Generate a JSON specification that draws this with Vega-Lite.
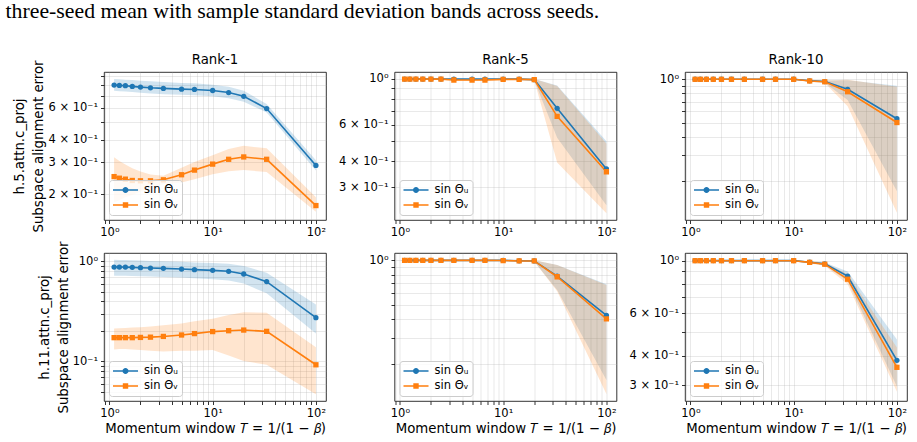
{
  "$schema": "https://vega.github.io/schema/vega-lite/v6.json",
  "padding": {"left": 5, "top": 0, "right": 5, "bottom": 5},
  "title": {
    "text": "three-seed mean with sample standard deviation bands across seeds.",
    "anchor": "start",
    "frame": "bounds",
    "font": "Liberation Serif",
    "fontSize": 21.8,
    "fontWeight": "normal",
    "color": "#000000",
    "offset": 30,
    "dx": -7
  },
  "datasets": {
    "A": [
      {"s": "U", "T": 1.111, "m": 0.800, "lo": 0.744, "hi": 0.865},
      {"s": "U", "T": 1.25, "m": 0.797, "lo": 0.741, "hi": 0.861},
      {"s": "U", "T": 1.429, "m": 0.794, "lo": 0.738, "hi": 0.857},
      {"s": "U", "T": 1.667, "m": 0.787, "lo": 0.732, "hi": 0.854},
      {"s": "U", "T": 2, "m": 0.780, "lo": 0.725, "hi": 0.846},
      {"s": "U", "T": 2.5, "m": 0.773, "lo": 0.719, "hi": 0.839},
      {"s": "U", "T": 3.333, "m": 0.767, "lo": 0.713, "hi": 0.832},
      {"s": "U", "T": 5, "m": 0.760, "lo": 0.707, "hi": 0.821},
      {"s": "U", "T": 6.667, "m": 0.757, "lo": 0.704, "hi": 0.818},
      {"s": "U", "T": 10, "m": 0.747, "lo": 0.695, "hi": 0.804},
      {"s": "U", "T": 14.29, "m": 0.728, "lo": 0.677, "hi": 0.783},
      {"s": "U", "T": 20, "m": 0.694, "lo": 0.648, "hi": 0.744},
      {"s": "U", "T": 33.33, "m": 0.594, "lo": 0.564, "hi": 0.630},
      {"s": "U", "T": 100, "m": 0.288, "lo": 0.270, "hi": 0.308},
      {"s": "V", "T": 1.111, "m": 0.250, "lo": 0.180, "hi": 0.320},
      {"s": "V", "T": 1.25, "m": 0.245, "lo": 0.185, "hi": 0.305},
      {"s": "V", "T": 1.429, "m": 0.242, "lo": 0.192, "hi": 0.292},
      {"s": "V", "T": 1.667, "m": 0.238, "lo": 0.198, "hi": 0.278},
      {"s": "V", "T": 2, "m": 0.237, "lo": 0.207, "hi": 0.267},
      {"s": "V", "T": 2.5, "m": 0.237, "lo": 0.217, "hi": 0.257},
      {"s": "V", "T": 3.333, "m": 0.240, "lo": 0.227, "hi": 0.253},
      {"s": "V", "T": 5, "m": 0.256, "lo": 0.232, "hi": 0.280},
      {"s": "V", "T": 6.667, "m": 0.2715, "lo": 0.242, "hi": 0.301},
      {"s": "V", "T": 10, "m": 0.293, "lo": 0.258, "hi": 0.328},
      {"s": "V", "T": 14.29, "m": 0.3115, "lo": 0.268, "hi": 0.355},
      {"s": "V", "T": 20, "m": 0.321, "lo": 0.272, "hi": 0.370},
      {"s": "V", "T": 33.33, "m": 0.3115, "lo": 0.265, "hi": 0.358},
      {"s": "V", "T": 100, "m": 0.173, "lo": 0.160, "hi": 0.192}
    ],
    "B": [
      {"s": "U", "T": 1.111, "m": 0.999, "lo": 0.995, "hi": 1.003},
      {"s": "U", "T": 1.25, "m": 0.999, "lo": 0.995, "hi": 1.003},
      {"s": "U", "T": 1.429, "m": 0.999, "lo": 0.995, "hi": 1.003},
      {"s": "U", "T": 1.667, "m": 0.999, "lo": 0.995, "hi": 1.003},
      {"s": "U", "T": 2, "m": 0.999, "lo": 0.995, "hi": 1.003},
      {"s": "U", "T": 2.5, "m": 0.999, "lo": 0.995, "hi": 1.003},
      {"s": "U", "T": 3.333, "m": 0.999, "lo": 0.995, "hi": 1.003},
      {"s": "U", "T": 5, "m": 0.999, "lo": 0.995, "hi": 1.003},
      {"s": "U", "T": 6.667, "m": 0.999, "lo": 0.995, "hi": 1.003},
      {"s": "U", "T": 10, "m": 0.999, "lo": 0.995, "hi": 1.003},
      {"s": "U", "T": 14.29, "m": 0.999, "lo": 0.995, "hi": 1.003},
      {"s": "U", "T": 20, "m": 0.993, "lo": 0.985, "hi": 1.0},
      {"s": "U", "T": 33.33, "m": 0.721, "lo": 0.52, "hi": 0.93},
      {"s": "U", "T": 100, "m": 0.367, "lo": 0.245, "hi": 0.50},
      {"s": "V", "T": 1.111, "m": 0.998, "lo": 0.994, "hi": 1.002},
      {"s": "V", "T": 1.25, "m": 0.998, "lo": 0.994, "hi": 1.002},
      {"s": "V", "T": 1.429, "m": 0.998, "lo": 0.994, "hi": 1.002},
      {"s": "V", "T": 1.667, "m": 0.998, "lo": 0.994, "hi": 1.002},
      {"s": "V", "T": 2, "m": 0.998, "lo": 0.994, "hi": 1.002},
      {"s": "V", "T": 2.5, "m": 0.998, "lo": 0.994, "hi": 1.002},
      {"s": "V", "T": 3.333, "m": 0.989, "lo": 0.978, "hi": 1.0},
      {"s": "V", "T": 5, "m": 0.989, "lo": 0.978, "hi": 1.0},
      {"s": "V", "T": 6.667, "m": 0.989, "lo": 0.978, "hi": 1.0},
      {"s": "V", "T": 10, "m": 0.996, "lo": 0.99, "hi": 1.002},
      {"s": "V", "T": 14.29, "m": 0.996, "lo": 0.99, "hi": 1.002},
      {"s": "V", "T": 20, "m": 0.993, "lo": 0.985, "hi": 1.0},
      {"s": "V", "T": 33.33, "m": 0.660, "lo": 0.395, "hi": 0.925},
      {"s": "V", "T": 100, "m": 0.356, "lo": 0.224, "hi": 0.488}
    ],
    "C": [
      {"s": "U", "T": 1.111, "m": 0.999, "lo": 0.995, "hi": 1.003},
      {"s": "U", "T": 1.25, "m": 0.999, "lo": 0.995, "hi": 1.003},
      {"s": "U", "T": 1.429, "m": 0.999, "lo": 0.995, "hi": 1.003},
      {"s": "U", "T": 1.667, "m": 0.999, "lo": 0.995, "hi": 1.003},
      {"s": "U", "T": 2, "m": 0.999, "lo": 0.995, "hi": 1.003},
      {"s": "U", "T": 2.5, "m": 0.999, "lo": 0.995, "hi": 1.003},
      {"s": "U", "T": 3.333, "m": 0.999, "lo": 0.995, "hi": 1.003},
      {"s": "U", "T": 5, "m": 0.999, "lo": 0.995, "hi": 1.003},
      {"s": "U", "T": 6.667, "m": 0.999, "lo": 0.995, "hi": 1.003},
      {"s": "U", "T": 10, "m": 0.999, "lo": 0.995, "hi": 1.003},
      {"s": "U", "T": 14.29, "m": 0.975, "lo": 0.96, "hi": 0.99},
      {"s": "U", "T": 20, "m": 0.963, "lo": 0.945, "hi": 0.98},
      {"s": "U", "T": 33.33, "m": 0.852, "lo": 0.72, "hi": 0.985},
      {"s": "U", "T": 100, "m": 0.535, "lo": 0.17, "hi": 0.90},
      {"s": "V", "T": 1.111, "m": 0.998, "lo": 0.994, "hi": 1.002},
      {"s": "V", "T": 1.25, "m": 0.998, "lo": 0.994, "hi": 1.002},
      {"s": "V", "T": 1.429, "m": 0.998, "lo": 0.994, "hi": 1.002},
      {"s": "V", "T": 1.667, "m": 0.998, "lo": 0.994, "hi": 1.002},
      {"s": "V", "T": 2, "m": 0.998, "lo": 0.994, "hi": 1.002},
      {"s": "V", "T": 2.5, "m": 0.998, "lo": 0.994, "hi": 1.002},
      {"s": "V", "T": 3.333, "m": 0.998, "lo": 0.994, "hi": 1.002},
      {"s": "V", "T": 5, "m": 0.998, "lo": 0.994, "hi": 1.002},
      {"s": "V", "T": 6.667, "m": 0.998, "lo": 0.994, "hi": 1.002},
      {"s": "V", "T": 10, "m": 0.998, "lo": 0.994, "hi": 1.002},
      {"s": "V", "T": 14.29, "m": 0.972, "lo": 0.955, "hi": 0.99},
      {"s": "V", "T": 20, "m": 0.960, "lo": 0.94, "hi": 0.98},
      {"s": "V", "T": 33.33, "m": 0.820, "lo": 0.652, "hi": 0.99},
      {"s": "V", "T": 100, "m": 0.504, "lo": 0.121, "hi": 0.887}
    ],
    "D": [
      {"s": "U", "T": 1.111, "m": 0.878, "lo": 0.72, "hi": 1.04},
      {"s": "U", "T": 1.25, "m": 0.878, "lo": 0.72, "hi": 1.035},
      {"s": "U", "T": 1.429, "m": 0.877, "lo": 0.72, "hi": 1.03},
      {"s": "U", "T": 1.667, "m": 0.872, "lo": 0.715, "hi": 1.028},
      {"s": "U", "T": 2, "m": 0.865, "lo": 0.71, "hi": 1.02},
      {"s": "U", "T": 2.5, "m": 0.858, "lo": 0.705, "hi": 1.01},
      {"s": "U", "T": 3.333, "m": 0.852, "lo": 0.70, "hi": 1.005},
      {"s": "U", "T": 5, "m": 0.839, "lo": 0.69, "hi": 0.99},
      {"s": "U", "T": 6.667, "m": 0.827, "lo": 0.68, "hi": 0.975},
      {"s": "U", "T": 10, "m": 0.814, "lo": 0.665, "hi": 0.965},
      {"s": "U", "T": 14.29, "m": 0.796, "lo": 0.645, "hi": 0.945},
      {"s": "U", "T": 20, "m": 0.748, "lo": 0.60, "hi": 0.90},
      {"s": "U", "T": 33.33, "m": 0.628, "lo": 0.48, "hi": 0.77},
      {"s": "U", "T": 100, "m": 0.274, "lo": 0.19, "hi": 0.37},
      {"s": "V", "T": 1.111, "m": 0.173, "lo": 0.132, "hi": 0.214},
      {"s": "V", "T": 1.25, "m": 0.173, "lo": 0.133, "hi": 0.215},
      {"s": "V", "T": 1.429, "m": 0.173, "lo": 0.133, "hi": 0.216},
      {"s": "V", "T": 1.667, "m": 0.173, "lo": 0.132, "hi": 0.218},
      {"s": "V", "T": 2, "m": 0.174, "lo": 0.130, "hi": 0.220},
      {"s": "V", "T": 2.5, "m": 0.175, "lo": 0.128, "hi": 0.224},
      {"s": "V", "T": 3.333, "m": 0.178, "lo": 0.126, "hi": 0.230},
      {"s": "V", "T": 5, "m": 0.184, "lo": 0.128, "hi": 0.240},
      {"s": "V", "T": 6.667, "m": 0.190, "lo": 0.128, "hi": 0.252},
      {"s": "V", "T": 10, "m": 0.199, "lo": 0.130, "hi": 0.268},
      {"s": "V", "T": 14.29, "m": 0.203, "lo": 0.115, "hi": 0.291},
      {"s": "V", "T": 20, "m": 0.206, "lo": 0.101, "hi": 0.311},
      {"s": "V", "T": 33.33, "m": 0.200, "lo": 0.093, "hi": 0.307},
      {"s": "V", "T": 100, "m": 0.0927, "lo": 0.047, "hi": 0.139}
    ],
    "E": [
      {"s": "U", "T": 1.111, "m": 0.999, "lo": 0.995, "hi": 1.003},
      {"s": "U", "T": 1.25, "m": 0.999, "lo": 0.995, "hi": 1.003},
      {"s": "U", "T": 1.429, "m": 0.999, "lo": 0.995, "hi": 1.003},
      {"s": "U", "T": 1.667, "m": 0.999, "lo": 0.995, "hi": 1.003},
      {"s": "U", "T": 2, "m": 0.999, "lo": 0.995, "hi": 1.003},
      {"s": "U", "T": 2.5, "m": 0.999, "lo": 0.995, "hi": 1.003},
      {"s": "U", "T": 3.333, "m": 0.999, "lo": 0.995, "hi": 1.003},
      {"s": "U", "T": 5, "m": 0.999, "lo": 0.995, "hi": 1.003},
      {"s": "U", "T": 6.667, "m": 0.999, "lo": 0.995, "hi": 1.003},
      {"s": "U", "T": 10, "m": 0.999, "lo": 0.995, "hi": 1.003},
      {"s": "U", "T": 14.29, "m": 0.992, "lo": 0.985, "hi": 1.0},
      {"s": "U", "T": 20, "m": 0.990, "lo": 0.98, "hi": 1.0},
      {"s": "U", "T": 33.33, "m": 0.782, "lo": 0.63, "hi": 0.93},
      {"s": "U", "T": 100, "m": 0.424, "lo": 0.155, "hi": 0.69},
      {"s": "V", "T": 1.111, "m": 0.998, "lo": 0.994, "hi": 1.002},
      {"s": "V", "T": 1.25, "m": 0.998, "lo": 0.994, "hi": 1.002},
      {"s": "V", "T": 1.429, "m": 0.998, "lo": 0.994, "hi": 1.002},
      {"s": "V", "T": 1.667, "m": 0.998, "lo": 0.994, "hi": 1.002},
      {"s": "V", "T": 2, "m": 0.998, "lo": 0.994, "hi": 1.002},
      {"s": "V", "T": 2.5, "m": 0.998, "lo": 0.994, "hi": 1.002},
      {"s": "V", "T": 3.333, "m": 0.998, "lo": 0.994, "hi": 1.002},
      {"s": "V", "T": 5, "m": 0.998, "lo": 0.994, "hi": 1.002},
      {"s": "V", "T": 6.667, "m": 0.998, "lo": 0.994, "hi": 1.002},
      {"s": "V", "T": 10, "m": 0.996, "lo": 0.99, "hi": 1.002},
      {"s": "V", "T": 14.29, "m": 0.990, "lo": 0.982, "hi": 0.998},
      {"s": "V", "T": 20, "m": 0.990, "lo": 0.98, "hi": 1.0},
      {"s": "V", "T": 33.33, "m": 0.774, "lo": 0.618, "hi": 0.93},
      {"s": "V", "T": 100, "m": 0.402, "lo": 0.125, "hi": 0.68}
    ],
    "F": [
      {"s": "U", "T": 1.111, "m": 0.999, "lo": 0.996, "hi": 1.002},
      {"s": "U", "T": 1.25, "m": 0.999, "lo": 0.996, "hi": 1.002},
      {"s": "U", "T": 1.429, "m": 0.999, "lo": 0.996, "hi": 1.002},
      {"s": "U", "T": 1.667, "m": 0.999, "lo": 0.996, "hi": 1.002},
      {"s": "U", "T": 2, "m": 0.999, "lo": 0.996, "hi": 1.002},
      {"s": "U", "T": 2.5, "m": 0.999, "lo": 0.996, "hi": 1.002},
      {"s": "U", "T": 3.333, "m": 0.999, "lo": 0.996, "hi": 1.002},
      {"s": "U", "T": 5, "m": 0.999, "lo": 0.996, "hi": 1.002},
      {"s": "U", "T": 6.667, "m": 0.999, "lo": 0.996, "hi": 1.002},
      {"s": "U", "T": 10, "m": 0.999, "lo": 0.996, "hi": 1.002},
      {"s": "U", "T": 14.29, "m": 0.984, "lo": 0.975, "hi": 0.993},
      {"s": "U", "T": 20, "m": 0.968, "lo": 0.955, "hi": 0.981},
      {"s": "U", "T": 33.33, "m": 0.860, "lo": 0.82, "hi": 0.90},
      {"s": "U", "T": 100, "m": 0.382, "lo": 0.297, "hi": 0.467},
      {"s": "V", "T": 1.111, "m": 0.998, "lo": 0.995, "hi": 1.001},
      {"s": "V", "T": 1.25, "m": 0.998, "lo": 0.995, "hi": 1.001},
      {"s": "V", "T": 1.429, "m": 0.998, "lo": 0.995, "hi": 1.001},
      {"s": "V", "T": 1.667, "m": 0.998, "lo": 0.995, "hi": 1.001},
      {"s": "V", "T": 2, "m": 0.998, "lo": 0.995, "hi": 1.001},
      {"s": "V", "T": 2.5, "m": 0.998, "lo": 0.995, "hi": 1.001},
      {"s": "V", "T": 3.333, "m": 0.998, "lo": 0.995, "hi": 1.001},
      {"s": "V", "T": 5, "m": 0.998, "lo": 0.995, "hi": 1.001},
      {"s": "V", "T": 6.667, "m": 0.998, "lo": 0.995, "hi": 1.001},
      {"s": "V", "T": 10, "m": 0.998, "lo": 0.995, "hi": 1.001},
      {"s": "V", "T": 14.29, "m": 0.982, "lo": 0.972, "hi": 0.992},
      {"s": "V", "T": 20, "m": 0.965, "lo": 0.95, "hi": 0.98},
      {"s": "V", "T": 33.33, "m": 0.835, "lo": 0.795, "hi": 0.875},
      {"s": "V", "T": 100, "m": 0.357, "lo": 0.282, "hi": 0.432}
    ]
  },
  "columns": 3,
  "spacing": {"row": 33, "column": 68.5},
  "bounds": "flush",
  "resolve": {
    "scale": {"color": "independent", "shape": "independent"},
    "legend": {"color": "independent", "shape": "independent"}
  },
  "concat": [
    {
      "title": {"text": "Rank-1", "dy": 12.3},
      "width": 222, "height": 148,
      "data": {"name": "A"},
      "encoding": {
        "x": {"field": "T", "type": "quantitative", "scale": {"type": "log", "domain": [0.8871, 125.2], "nice": false},
              "axis": {"title": null, "values": [0.9,1,2,3,4,5,6,7,8,9,10,20,30,40,50,60,70,80,90,100],
                       "labelExpr": "datum.value == 1 ? '10⁰' : datum.value == 10 ? '10¹' : datum.value == 100 ? '10²' : ''"}},
        "y": {"field": "m", "type": "quantitative", "scale": {"type": "log", "domain": [0.144, 0.945], "nice": false},
              "axis": {"title": ["h.5.attn.c_proj", "Subspace alignment error"], "titleLineHeight": 19,
                       "values": [0.2,0.3,0.4,0.5,0.6,0.7,0.8,0.9],
                       "labelExpr": "datum.value == 0.6 ? '6 × 10⁻¹' : datum.value == 0.4 ? '4 × 10⁻¹' : datum.value == 0.3 ? '3 × 10⁻¹' : datum.value == 0.2 ? '2 × 10⁻¹' : ''"}},
        "color": {"field": "s", "type": "nominal", "scale": {"domain": ["U", "V"], "range": ["#1f77b4", "#ff7f0e"]}, "legend": null}
      },
      "resolve": {"scale": {"color": "independent", "shape": "independent"}, "legend": {"color": "independent", "shape": "independent"}},
      "layer": [
        {"mark": {"type": "area", "opacity": 0.2, "clip": true},
         "encoding": {"y": {"field": "lo", "type": "quantitative", "stack": null,
              "axis": {"title": ["h.5.attn.c_proj", "Subspace alignment error"], "titleLineHeight": 19,
                       "values": [0.2,0.3,0.4,0.5,0.6,0.7,0.8,0.9],
                       "labelExpr": "datum.value == 0.6 ? '6 × 10⁻¹' : datum.value == 0.4 ? '4 × 10⁻¹' : datum.value == 0.3 ? '3 × 10⁻¹' : datum.value == 0.2 ? '2 × 10⁻¹' : ''"}},
           "y2": {"field": "hi"}}},
        {"mark": {"type": "line", "strokeWidth": 1.6, "clip": true}},
        {"mark": {"type": "point", "filled": true, "opacity": 1, "size": 28, "clip": true},
         "encoding": {"shape": {"field": "s", "type": "nominal", "scale": {"domain": ["U", "V"], "range": ["circle", "square"]}, "legend": null}}},
        {"mark": {"type": "point", "filled": true, "opacity": 0},
         "encoding": {
           "color": {"field": "s", "type": "nominal", "scale": {"domain": ["U", "V"], "range": ["#1f77b4", "#ff7f0e"]},
             "legend": {"title": null, "orient": "bottom-left", "symbolOpacity": 1, "labelExpr": "datum.value == 'U' ? 'sin Θᵤ' : 'sin Θᵥ'"}},
           "shape": {"field": "s", "type": "nominal",
             "scale": {"domain": ["U", "V"], "range": ["M-1,-0.133H3.17V0.133H-1Z M1.585,0A0.5,0.5,0,1,1,0.585,0A0.5,0.5,0,1,1,1.585,0Z", "M-1,-0.133H3.17V0.133H-1Z M0.635,-0.45H1.535V0.45H0.635Z"]},
             "legend": {"title": null, "orient": "bottom-left", "symbolOpacity": 1, "labelExpr": "datum.value == 'U' ? 'sin Θᵤ' : 'sin Θᵥ'"}}}}
      ]
    },
    {
      "title": "Rank-5",
      "width": 222, "height": 148,
      "data": {"name": "B"},
      "encoding": {
        "x": {"field": "T", "type": "quantitative", "scale": {"type": "log", "domain": [0.8871, 125.2], "nice": false},
              "axis": {"title": null, "values": [0.9,1,2,3,4,5,6,7,8,9,10,20,30,40,50,60,70,80,90,100],
                       "labelExpr": "datum.value == 1 ? '10⁰' : datum.value == 10 ? '10¹' : datum.value == 100 ? '10²' : ''"}},
        "y": {"field": "m", "type": "quantitative", "scale": {"type": "log", "domain": [0.208, 1.081], "nice": false},
              "axis": {"title": null,
                       "values": [0.3,0.4,0.5,0.6,0.7,0.8,0.9,1],
                       "labelExpr": "datum.value == 1 ? '10⁰' : datum.value == 0.6 ? '6 × 10⁻¹' : datum.value == 0.4 ? '4 × 10⁻¹' : datum.value == 0.3 ? '3 × 10⁻¹' : ''"}},
        "color": {"field": "s", "type": "nominal", "scale": {"domain": ["U", "V"], "range": ["#1f77b4", "#ff7f0e"]}, "legend": null}
      },
      "resolve": {"scale": {"color": "independent", "shape": "independent"}, "legend": {"color": "independent", "shape": "independent"}},
      "layer": [
        {"mark": {"type": "area", "opacity": 0.2, "clip": true},
         "encoding": {"y": {"field": "lo", "type": "quantitative", "stack": null,
              "axis": {"title": null,
                       "values": [0.3,0.4,0.5,0.6,0.7,0.8,0.9,1],
                       "labelExpr": "datum.value == 1 ? '10⁰' : datum.value == 0.6 ? '6 × 10⁻¹' : datum.value == 0.4 ? '4 × 10⁻¹' : datum.value == 0.3 ? '3 × 10⁻¹' : ''"}},
           "y2": {"field": "hi"}}},
        {"mark": {"type": "line", "strokeWidth": 1.6, "clip": true}},
        {"mark": {"type": "point", "filled": true, "opacity": 1, "size": 28, "clip": true},
         "encoding": {"shape": {"field": "s", "type": "nominal", "scale": {"domain": ["U", "V"], "range": ["circle", "square"]}, "legend": null}}},
        {"mark": {"type": "point", "filled": true, "opacity": 0},
         "encoding": {
           "color": {"field": "s", "type": "nominal", "scale": {"domain": ["U", "V"], "range": ["#1f77b4", "#ff7f0e"]},
             "legend": {"title": null, "orient": "bottom-left", "symbolOpacity": 1, "labelExpr": "datum.value == 'U' ? 'sin Θᵤ' : 'sin Θᵥ'"}},
           "shape": {"field": "s", "type": "nominal",
             "scale": {"domain": ["U", "V"], "range": ["M-1,-0.133H3.17V0.133H-1Z M1.585,0A0.5,0.5,0,1,1,0.585,0A0.5,0.5,0,1,1,1.585,0Z", "M-1,-0.133H3.17V0.133H-1Z M0.635,-0.45H1.535V0.45H0.635Z"]},
             "legend": {"title": null, "orient": "bottom-left", "symbolOpacity": 1, "labelExpr": "datum.value == 'U' ? 'sin Θᵤ' : 'sin Θᵥ'"}}}}
      ]
    },
    {
      "title": "Rank-10",
      "width": 222, "height": 148,
      "data": {"name": "C"},
      "encoding": {
        "x": {"field": "T", "type": "quantitative", "scale": {"type": "log", "domain": [0.8871, 125.2], "nice": false},
              "axis": {"title": null, "values": [0.9,1,2,3,4,5,6,7,8,9,10,20,30,40,50,60,70,80,90,100],
                       "labelExpr": "datum.value == 1 ? '10⁰' : datum.value == 10 ? '10¹' : datum.value == 100 ? '10²' : ''"}},
        "y": {"field": "m", "type": "quantitative", "scale": {"type": "log", "domain": [0.108, 1.12], "nice": false},
              "axis": {"title": null,
                       "values": [0.2,0.3,0.4,0.5,0.6,0.7,0.8,0.9,1],
                       "labelExpr": "datum.value == 1 ? '10⁰' : ''"}},
        "color": {"field": "s", "type": "nominal", "scale": {"domain": ["U", "V"], "range": ["#1f77b4", "#ff7f0e"]}, "legend": null}
      },
      "resolve": {"scale": {"color": "independent", "shape": "independent"}, "legend": {"color": "independent", "shape": "independent"}},
      "layer": [
        {"mark": {"type": "area", "opacity": 0.2, "clip": true},
         "encoding": {"y": {"field": "lo", "type": "quantitative", "stack": null,
              "axis": {"title": null,
                       "values": [0.2,0.3,0.4,0.5,0.6,0.7,0.8,0.9,1],
                       "labelExpr": "datum.value == 1 ? '10⁰' : ''"}},
           "y2": {"field": "hi"}}},
        {"mark": {"type": "line", "strokeWidth": 1.6, "clip": true}},
        {"mark": {"type": "point", "filled": true, "opacity": 1, "size": 28, "clip": true},
         "encoding": {"shape": {"field": "s", "type": "nominal", "scale": {"domain": ["U", "V"], "range": ["circle", "square"]}, "legend": null}}},
        {"mark": {"type": "point", "filled": true, "opacity": 0},
         "encoding": {
           "color": {"field": "s", "type": "nominal", "scale": {"domain": ["U", "V"], "range": ["#1f77b4", "#ff7f0e"]},
             "legend": {"title": null, "orient": "bottom-left", "symbolOpacity": 1, "labelExpr": "datum.value == 'U' ? 'sin Θᵤ' : 'sin Θᵥ'"}},
           "shape": {"field": "s", "type": "nominal",
             "scale": {"domain": ["U", "V"], "range": ["M-1,-0.133H3.17V0.133H-1Z M1.585,0A0.5,0.5,0,1,1,0.585,0A0.5,0.5,0,1,1,1.585,0Z", "M-1,-0.133H3.17V0.133H-1Z M0.635,-0.45H1.535V0.45H0.635Z"]},
             "legend": {"title": null, "orient": "bottom-left", "symbolOpacity": 1, "labelExpr": "datum.value == 'U' ? 'sin Θᵤ' : 'sin Θᵥ'"}}}}
      ]
    },
    {
      "width": 222, "height": 148,
      "data": {"name": "D"},
      "encoding": {
        "x": {"field": "T", "type": "quantitative", "scale": {"type": "log", "domain": [0.8871, 125.2], "nice": false},
              "axis": {"title": "Momentum window 𝑇 = 1/(1 − 𝛽)", "values": [0.9,1,2,3,4,5,6,7,8,9,10,20,30,40,50,60,70,80,90,100],
                       "labelExpr": "datum.value == 1 ? '10⁰' : datum.value == 10 ? '10¹' : datum.value == 100 ? '10²' : ''"}},
        "y": {"field": "m", "type": "quantitative", "scale": {"type": "log", "domain": [0.0403, 1.213], "nice": false},
              "axis": {"title": ["h.11.attn.c_proj", "Subspace alignment error"], "titleLineHeight": 19,
                       "values": [0.05,0.06,0.07,0.08,0.09,0.1,0.2,0.3,0.4,0.5,0.6,0.7,0.8,0.9,1],
                       "labelExpr": "datum.value == 1 ? '10⁰' : datum.value == 0.1 ? '10⁻¹' : ''"}},
        "color": {"field": "s", "type": "nominal", "scale": {"domain": ["U", "V"], "range": ["#1f77b4", "#ff7f0e"]}, "legend": null}
      },
      "resolve": {"scale": {"color": "independent", "shape": "independent"}, "legend": {"color": "independent", "shape": "independent"}},
      "layer": [
        {"mark": {"type": "area", "opacity": 0.2, "clip": true},
         "encoding": {"y": {"field": "lo", "type": "quantitative", "stack": null,
              "axis": {"title": ["h.11.attn.c_proj", "Subspace alignment error"], "titleLineHeight": 19,
                       "values": [0.05,0.06,0.07,0.08,0.09,0.1,0.2,0.3,0.4,0.5,0.6,0.7,0.8,0.9,1],
                       "labelExpr": "datum.value == 1 ? '10⁰' : datum.value == 0.1 ? '10⁻¹' : ''"}},
           "y2": {"field": "hi"}}},
        {"mark": {"type": "line", "strokeWidth": 1.6, "clip": true}},
        {"mark": {"type": "point", "filled": true, "opacity": 1, "size": 28, "clip": true},
         "encoding": {"shape": {"field": "s", "type": "nominal", "scale": {"domain": ["U", "V"], "range": ["circle", "square"]}, "legend": null}}},
        {"mark": {"type": "point", "filled": true, "opacity": 0},
         "encoding": {
           "color": {"field": "s", "type": "nominal", "scale": {"domain": ["U", "V"], "range": ["#1f77b4", "#ff7f0e"]},
             "legend": {"title": null, "orient": "bottom-left", "symbolOpacity": 1, "labelExpr": "datum.value == 'U' ? 'sin Θᵤ' : 'sin Θᵥ'"}},
           "shape": {"field": "s", "type": "nominal",
             "scale": {"domain": ["U", "V"], "range": ["M-1,-0.133H3.17V0.133H-1Z M1.585,0A0.5,0.5,0,1,1,0.585,0A0.5,0.5,0,1,1,1.585,0Z", "M-1,-0.133H3.17V0.133H-1Z M0.635,-0.45H1.535V0.45H0.635Z"]},
             "legend": {"title": null, "orient": "bottom-left", "symbolOpacity": 1, "labelExpr": "datum.value == 'U' ? 'sin Θᵤ' : 'sin Θᵥ'"}}}}
      ]
    },
    {
      "width": 222, "height": 148,
      "data": {"name": "E"},
      "encoding": {
        "x": {"field": "T", "type": "quantitative", "scale": {"type": "log", "domain": [0.8871, 125.2], "nice": false},
              "axis": {"title": "Momentum window 𝑇 = 1/(1 − 𝛽)", "values": [0.9,1,2,3,4,5,6,7,8,9,10,20,30,40,50,60,70,80,90,100],
                       "labelExpr": "datum.value == 1 ? '10⁰' : datum.value == 10 ? '10¹' : datum.value == 100 ? '10²' : ''"}},
        "y": {"field": "m", "type": "quantitative", "scale": {"type": "log", "domain": [0.112, 1.12], "nice": false},
              "axis": {"title": null,
                       "values": [0.2,0.3,0.4,0.5,0.6,0.7,0.8,0.9,1],
                       "labelExpr": "datum.value == 1 ? '10⁰' : ''"}},
        "color": {"field": "s", "type": "nominal", "scale": {"domain": ["U", "V"], "range": ["#1f77b4", "#ff7f0e"]}, "legend": null}
      },
      "resolve": {"scale": {"color": "independent", "shape": "independent"}, "legend": {"color": "independent", "shape": "independent"}},
      "layer": [
        {"mark": {"type": "area", "opacity": 0.2, "clip": true},
         "encoding": {"y": {"field": "lo", "type": "quantitative", "stack": null,
              "axis": {"title": null,
                       "values": [0.2,0.3,0.4,0.5,0.6,0.7,0.8,0.9,1],
                       "labelExpr": "datum.value == 1 ? '10⁰' : ''"}},
           "y2": {"field": "hi"}}},
        {"mark": {"type": "line", "strokeWidth": 1.6, "clip": true}},
        {"mark": {"type": "point", "filled": true, "opacity": 1, "size": 28, "clip": true},
         "encoding": {"shape": {"field": "s", "type": "nominal", "scale": {"domain": ["U", "V"], "range": ["circle", "square"]}, "legend": null}}},
        {"mark": {"type": "point", "filled": true, "opacity": 0},
         "encoding": {
           "color": {"field": "s", "type": "nominal", "scale": {"domain": ["U", "V"], "range": ["#1f77b4", "#ff7f0e"]},
             "legend": {"title": null, "orient": "bottom-left", "symbolOpacity": 1, "labelExpr": "datum.value == 'U' ? 'sin Θᵤ' : 'sin Θᵥ'"}},
           "shape": {"field": "s", "type": "nominal",
             "scale": {"domain": ["U", "V"], "range": ["M-1,-0.133H3.17V0.133H-1Z M1.585,0A0.5,0.5,0,1,1,0.585,0A0.5,0.5,0,1,1,1.585,0Z", "M-1,-0.133H3.17V0.133H-1Z M0.635,-0.45H1.535V0.45H0.635Z"]},
             "legend": {"title": null, "orient": "bottom-left", "symbolOpacity": 1, "labelExpr": "datum.value == 'U' ? 'sin Θᵤ' : 'sin Θᵥ'"}}}}
      ]
    },
    {
      "width": 222, "height": 148,
      "data": {"name": "F"},
      "encoding": {
        "x": {"field": "T", "type": "quantitative", "scale": {"type": "log", "domain": [0.8871, 125.2], "nice": false},
              "axis": {"title": "Momentum window 𝑇 = 1/(1 − 𝛽)", "values": [0.9,1,2,3,4,5,6,7,8,9,10,20,30,40,50,60,70,80,90,100],
                       "labelExpr": "datum.value == 1 ? '10⁰' : datum.value == 10 ? '10¹' : datum.value == 100 ? '10²' : ''"}},
        "y": {"field": "m", "type": "quantitative", "scale": {"type": "log", "domain": [0.258, 1.075], "nice": false},
              "axis": {"title": null,
                       "values": [0.3,0.4,0.5,0.6,0.7,0.8,0.9,1],
                       "labelExpr": "datum.value == 1 ? '10⁰' : datum.value == 0.6 ? '6 × 10⁻¹' : datum.value == 0.4 ? '4 × 10⁻¹' : datum.value == 0.3 ? '3 × 10⁻¹' : ''"}},
        "color": {"field": "s", "type": "nominal", "scale": {"domain": ["U", "V"], "range": ["#1f77b4", "#ff7f0e"]}, "legend": null}
      },
      "resolve": {"scale": {"color": "independent", "shape": "independent"}, "legend": {"color": "independent", "shape": "independent"}},
      "layer": [
        {"mark": {"type": "area", "opacity": 0.2, "clip": true},
         "encoding": {"y": {"field": "lo", "type": "quantitative", "stack": null,
              "axis": {"title": null,
                       "values": [0.3,0.4,0.5,0.6,0.7,0.8,0.9,1],
                       "labelExpr": "datum.value == 1 ? '10⁰' : datum.value == 0.6 ? '6 × 10⁻¹' : datum.value == 0.4 ? '4 × 10⁻¹' : datum.value == 0.3 ? '3 × 10⁻¹' : ''"}},
           "y2": {"field": "hi"}}},
        {"mark": {"type": "line", "strokeWidth": 1.6, "clip": true}},
        {"mark": {"type": "point", "filled": true, "opacity": 1, "size": 28, "clip": true},
         "encoding": {"shape": {"field": "s", "type": "nominal", "scale": {"domain": ["U", "V"], "range": ["circle", "square"]}, "legend": null}}},
        {"mark": {"type": "point", "filled": true, "opacity": 0},
         "encoding": {
           "color": {"field": "s", "type": "nominal", "scale": {"domain": ["U", "V"], "range": ["#1f77b4", "#ff7f0e"]},
             "legend": {"title": null, "orient": "bottom-left", "symbolOpacity": 1, "labelExpr": "datum.value == 'U' ? 'sin Θᵤ' : 'sin Θᵥ'"}},
           "shape": {"field": "s", "type": "nominal",
             "scale": {"domain": ["U", "V"], "range": ["M-1,-0.133H3.17V0.133H-1Z M1.585,0A0.5,0.5,0,1,1,0.585,0A0.5,0.5,0,1,1,1.585,0Z", "M-1,-0.133H3.17V0.133H-1Z M0.635,-0.45H1.535V0.45H0.635Z"]},
             "legend": {"title": null, "orient": "bottom-left", "symbolOpacity": 1, "labelExpr": "datum.value == 'U' ? 'sin Θᵤ' : 'sin Θᵥ'"}}}}
      ]
    }
  ],
  "config": {
    "font": "DejaVu Sans",
    "view": {"stroke": "#000000", "strokeWidth": 0.8},
    "axis": {
      "domain": false,
      "labelFont": "DejaVu Sans", "labelFontSize": 11.5, "labelColor": "#000000", "labelPadding": 3,
      "labelOverlap": false, "labelFlush": false,
      "tickColor": "#000000", "tickSize": 3.5, "tickWidth": 0.8,
      "gridColor": "#b0b0b0", "gridOpacity": 0.35, "gridWidth": 0.8,
      "titleFont": "DejaVu Sans", "titleFontSize": 13.3, "titleFontWeight": "normal", "titleColor": "#000000", "titlePadding": 2
    },
    "title": {"font": "DejaVu Sans", "fontSize": 13.3, "fontWeight": "normal", "color": "#000000", "offset": 6},
    "legend": {
      "offset": 5, "padding": 4, "rowPadding": 3,
      "symbolSize": 144, "symbolStrokeWidth": 0, "labelOffset": 19,
      "labelFont": "DejaVu Sans", "labelFontSize": 11.5, "labelColor": "#000000",
      "fillColor": "rgba(255,255,255,0.8)", "strokeColor": "#cccccc", "cornerRadius": 3
    }
  }
}
